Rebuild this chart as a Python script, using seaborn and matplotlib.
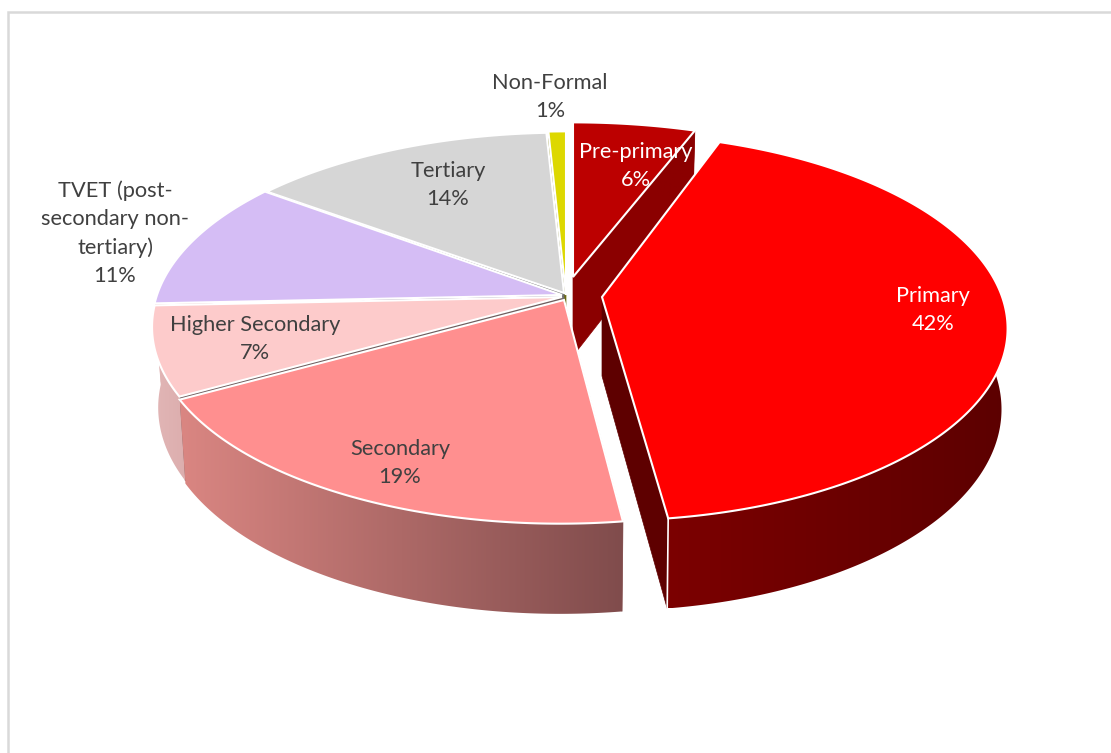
import numpy as np
import matplotlib
matplotlib.use("Agg")
import matplotlib.pyplot as plt
from matplotlib.patches import Polygon
import seaborn as sns

# ---- data (clockwise from 12 o'clock) ----
categories = ["Pre-primary", "Primary", "Secondary", "Higher Secondary",
              "TVET (post-\nsecondary non-\ntertiary)", "Tertiary", "Non-Formal"]
shares = [5.6, 42.3, 19.0, 7.4, 10.9, 14.0, 0.8]
top_colors = ["#BC0000", "#FF0000", "#FF8F8F", "#FDCBCB", "#D5BDF5", "#D6D6D6", "#DDD800"]
cut_colors = ["#8B0000", "#5E0000", "#8A5555", "#6E5E5E", "#77708A", "#707070", "#6B6A10"]
wall_left = ["#8B0000", "#7C0000", "#DA8682", "#E2B6B6", "#E2B6B6", "#999999", "#8A8700"]
wall_right = ["#8B0000", "#5C0000", "#804C4C", "#DCAEAE", "#E2B6B6", "#999999", "#8A8700"]
text_colors = ["white", "white", "#404040", "#404040", "#404040", "#404040", "#404040"]
label_x = [636, 933, 400, 255, 115, 448, 550]
label_y = [165.5, 310, 462.5, 338.5, 233, 185, 97]

# ---- style of the 3D view ----
explode_x = [10, 39, 1, -1, -1, 1, 3]
explode_y = [-20, 0, 3, 0, -2, -4, -2]
scale_x = [1, 0.988, 1, 1, 1, 1, 1]
scale_y = [0.945, 1, 1, 1, 1, 0.98, 1]
shear = [0, 0.018, -0.018, 0, 0, 0, 0]
cut_side = [-1, -1, 0, 0, -1, 0, 0]   # which radial face of each slice is drawn
CX, CY = 563, 297         # pie apex in pixels
RX, RY, K = 405, 189, 0.155  # perspective of the unit disc
DEPTH, SX, SY = 79, 0.985, 1.05   # how the bottom disc relates to the top
draw_order = [0, 6, 5, 4, 3, 2, 1]

sns.set_theme(style="white")
plt.rcParams["font.family"] = ["Lato", "DejaVu Sans"]

fig = plt.figure(figsize=(11.11, 7.53), dpi=100, facecolor="white")
ax = fig.add_axes([0, 0, 1, 1])
ax.set_xlim(0, 1111)
ax.set_ylim(753, 0)
ax.set_autoscale_on(False)
ax.axis("off")

# chart-area frame: only the top and left edges fall inside the picture
ax.plot([8, 8, 1111], [753, 12, 12], color="#D9D9D9", lw=1.8, solid_joinstyle="miter", zorder=1)


def rim(a0, a1, i, n=90):
    th = np.radians(np.linspace(a0, a1, n))
    X, Y = np.sin(th), np.cos(th)
    w = 1 + K * Y
    y = -RY * Y / w * scale_y[i]
    x = RX * X / w * scale_x[i] + shear[i] * y
    return x, y


def top(x, y, ex, ey):
    return CX + ex + x, CY + ey + y


def bottom(x, y, ex, ey):
    return CX + ex + SX * x, CY + ey + SY * y + DEPTH


def rgb(h):
    return np.array(matplotlib.colors.to_rgb(h))


angles = np.concatenate([[0], np.cumsum(shares)]) / sum(shares) * 360
z = 2

for i in draw_order:
    a0, a1 = angles[i], angles[i + 1]
    ex, ey = explode_x[i], explode_y[i]
    rx, ry = rim(a0, a1, i, max(int(a1 - a0) * 2, 6))
    tx, ty = top(rx, ry, ex, ey)
    bx, by = bottom(rx, ry, ex, ey)
    ax0, ay0 = top(0, 0, ex, ey)
    bx0, by0 = bottom(0, 0, ex, ey)

    # the radial face that shows
    j = cut_side[i]
    ax.fill([ax0, tx[j], bx[j], bx0], [ay0, ty[j], by[j], by0],
            color=cut_colors[i], lw=0.5, zorder=z)
    z += 1

    # outer wall: one horizontal gradient clipped to the wall outline
    xs = np.r_[tx, bx[::-1]]
    ys = np.r_[ty, by[::-1]]
    f = np.linspace(0, 1, 256)[:, None]
    grad = (rgb(wall_left[i]) * (1 - f) + rgb(wall_right[i]) * f)[None, :, :]
    clip = Polygon(np.c_[xs, ys], closed=True, transform=ax.transData)
    im = ax.imshow(grad, extent=(xs.min(), xs.max(), ys.max(), ys.min()),
                   aspect="auto", interpolation="bilinear", zorder=z)
    im.set_clip_path(clip)
    z += 1
    if i == 1:
        ax.plot([tx[-1], bx[-1]], [ty[-1], by[-1]], color="white", lw=1.2, zorder=z)
        z += 1

    # top face
    ax.fill(np.r_[ax0, tx], np.r_[ay0, ty], facecolor=top_colors[i],
            edgecolor="white", lw=1.5, joinstyle="miter", zorder=z)
    z += 1

ax.set_xlim(0, 1111)
ax.set_ylim(753, 0)

for name, s, x, y, c in zip(categories, shares, label_x, label_y, text_colors):
    ax.text(x, y, f"{name}\n{round(s):d}%", ha="center", va="center", color=c,
            fontsize=15.7, linespacing=1.5, zorder=z + 1)

fig.savefig("out.png", dpi=100)
